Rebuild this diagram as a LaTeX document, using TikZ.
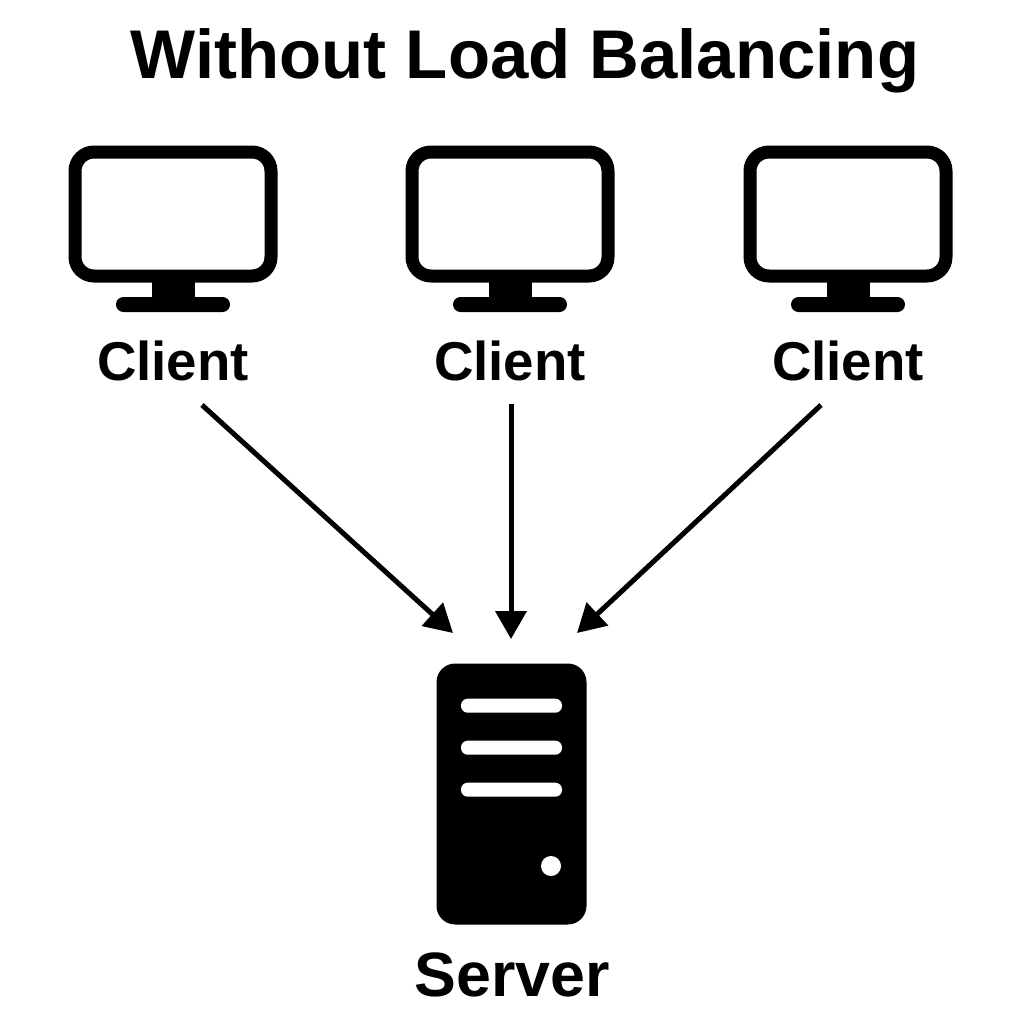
\documentclass[tikz,border=0pt]{standalone}
\usepackage{fontspec}
\setmainfont{Liberation Sans}
\usetikzlibrary{arrows.meta}
\tikzset{
  screen/.style={draw=black, line width=13pt*0.75, rounded corners=19pt*0.75, fill=white, minimum width=196pt*0.75, minimum height=124pt*0.75},
  label/.style={font=\bfseries\fontsize{41pt}{41pt}\selectfont, text=black},
  link/.style={line width=5pt*0.75, -{Triangle[length=21pt, width=23pt]}},
}
\begin{document}
\begin{tikzpicture}[x=0.75pt, y=-0.75pt, line cap=butt, line join=round]
    \useasboundingbox (0,0) rectangle (1024,1024);
    \node[font=\bfseries\fontsize{51.7pt}{51.7pt}\selectfont] (title) at (525,60.5) {Without Load Balancing};
    % clients
    \foreach \n/\x in {a/173,b/510,c/848} {
      \node[screen] (screen\n) at (\x,214) {};
      \fill (\x-21.5,282) rectangle (\x+21.5,300);
      \fill[rounded corners=5.6pt] (\x-57,297) rectangle (\x+57,312);
      \node[label] (client\n) at (\x,361) {Client};
    }
    % server
    \node[draw=none, fill=black, rounded corners=14pt, minimum width=150*0.75pt, minimum height=261*0.75pt] (server) at (511.5,794) {};
    \foreach \y in {705.7,747.7,789.7}
      \fill[white, rounded corners=5pt] (461,\y-7) rectangle (562,\y+7);
    \fill[white] (551,866) circle (10);
    \node[font=\bfseries\fontsize{47pt}{47pt}\selectfont] (serverlabel) at (512,975) {Server};
    % arrows
    \coordinate (enda) at (453,633);
    \coordinate (endb) at (511,639);
    \coordinate (endc) at (577,633);
    \coordinate (starta) at (202,405);
    \coordinate (startb) at (511,404);
    \coordinate (startc) at (821,405);
    \draw[link] (starta) -- (enda);
    \draw[link] (startb) -- (endb);
    \draw[link] (startc) -- (endc);
\end{tikzpicture}
\end{document}
